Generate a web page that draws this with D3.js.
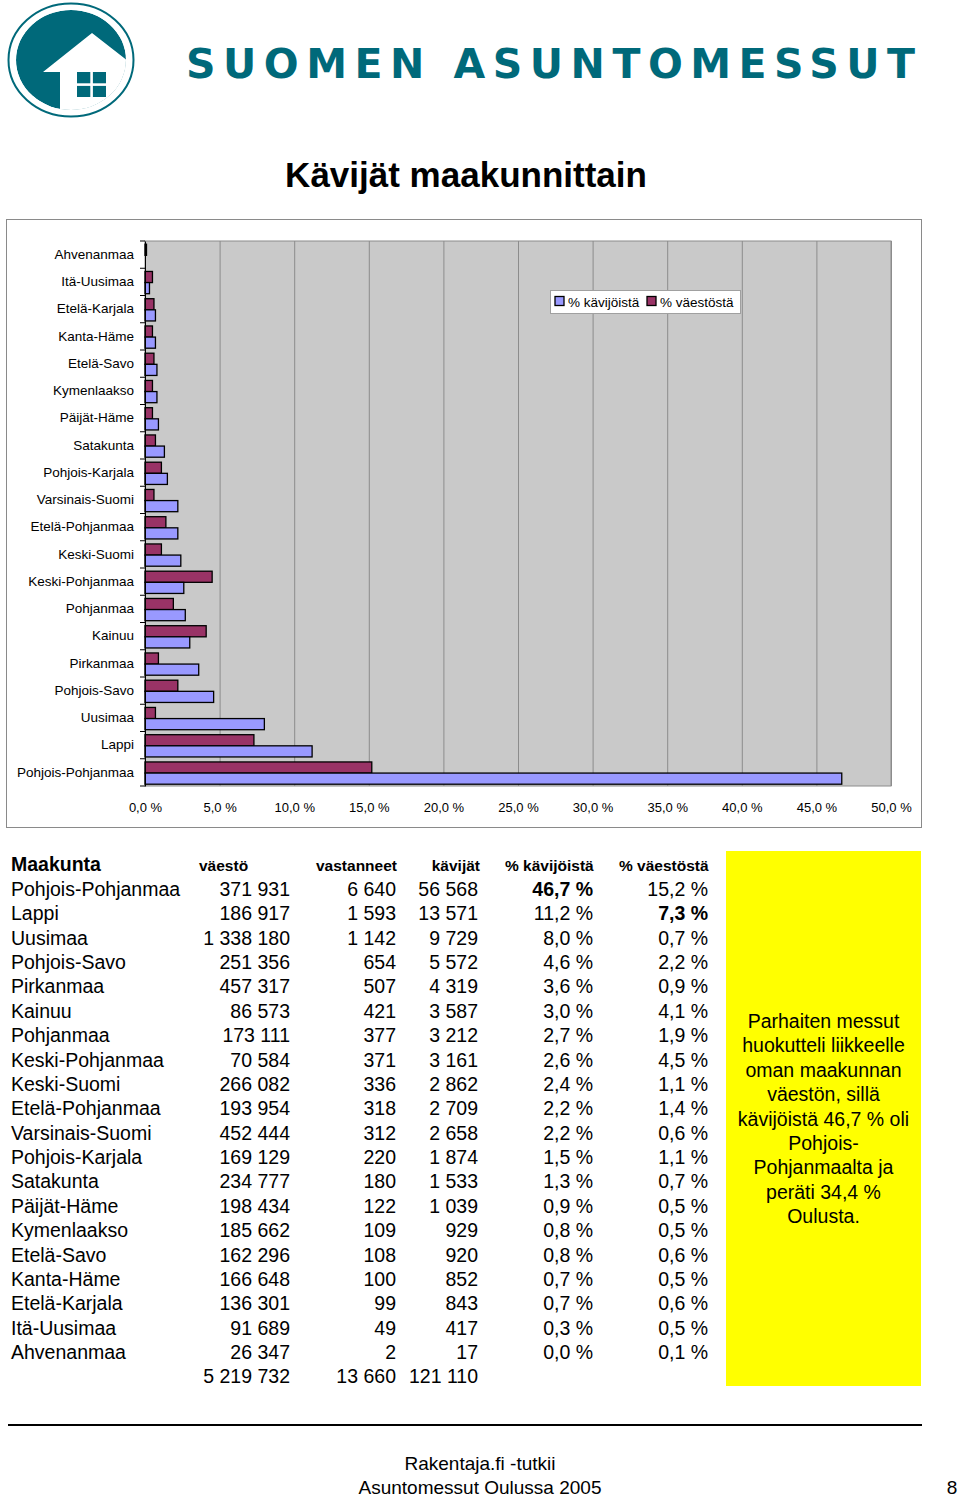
<!DOCTYPE html>
<html><head><meta charset="utf-8">
<script src="https://cdn.jsdelivr.net/npm/d3@7"></script>
<style>
html,body{margin:0;padding:0;background:#fff;}
svg{display:block;font-family:"Liberation Sans",Arial,Helvetica,sans-serif;}
</style></head>
<body>
<svg id="c" width="960" height="1496"></svg>
<script>
// ---- data ----
const regions = ["Pohjois-Pohjanmaa","Lappi","Uusimaa","Pohjois-Savo","Pirkanmaa","Kainuu","Pohjanmaa","Keski-Pohjanmaa","Keski-Suomi","Etelä-Pohjanmaa","Varsinais-Suomi","Pohjois-Karjala","Satakunta","Päijät-Häme","Kymenlaakso","Etelä-Savo","Kanta-Häme","Etelä-Karjala","Itä-Uusimaa","Ahvenanmaa"];
const vaesto = [371931,186917,1338180,251356,457317,86573,173111,70584,266082,193954,452444,169129,234777,198434,185662,162296,166648,136301,91689,26347];
const vastanneet = [6640,1593,1142,654,507,421,377,371,336,318,312,220,180,122,109,108,100,99,49,2];
const kavijat = [56568,13571,9729,5572,4319,3587,3212,3161,2862,2709,2658,1874,1533,1039,929,920,852,843,417,17];
const pctKavijoista = [46.7,11.2,8.0,4.6,3.6,3.0,2.7,2.6,2.4,2.2,2.2,1.5,1.3,0.9,0.8,0.8,0.7,0.7,0.3,0.0];
const pctVaestosta = [15.2,7.3,0.7,2.2,0.9,4.1,1.9,4.5,1.1,1.4,0.6,1.1,0.7,0.5,0.5,0.6,0.5,0.6,0.5,0.1];
const totals = [5219732,13660,121110];
const xTicks = [0,5,10,15,20,25,30,35,40,45,50];
const seriesNames = ["% kävijöistä","% väestöstä"];
const seriesColors = ["#9999FF","#993366"];
const headers = ["Maakunta","väestö","vastanneet","kävijät","% kävijöistä","% väestöstä"];
const boldCells = [[0,"kav"],[1,"vae"]];
const noteLines = ["Parhaiten messut","huokutteli liikkeelle","oman maakunnan","väestön, sillä","kävijöistä 46,7 % oli","Pohjois-","Pohjanmaalta ja","peräti 34,4 %","Oulusta."];
const footerLines = ["Rakentaja.fi -tutkii","Asuntomessut Oulussa 2005"];
const pageNumber = "8";

const fi = d3.formatLocale({decimal:",",thousands:"\u00a0",grouping:[3],currency:["","€"]});
const fmtInt = v => fi.format(",d")(v).replace(/\u00a0/g," ");
const fmtPct = v => fi.format(".1f")(v) + " %";

const svg = d3.select("#c");
const TEAL = "#00697A";

// ---- logo ----
const logo = svg.append("g");
const defs = svg.append("defs");
defs.append("clipPath").attr("id","disc").append("ellipse").attr("cx",71).attr("cy",60).attr("rx",55).attr("ry",50);
logo.append("ellipse").attr("cx",71).attr("cy",60).attr("rx",62.5).attr("ry",56.5).attr("fill","none").attr("stroke",TEAL).attr("stroke-width",2);
const disc = logo.append("g").attr("clip-path","url(#disc)");
disc.append("ellipse").attr("cx",71).attr("cy",60).attr("rx",55).attr("ry",50).attr("fill",TEAL);
disc.append("polygon").attr("points","43,72 92,33 150,78 150,130 60,130 60,72").attr("fill","#fff");
disc.append("rect").attr("x",77).attr("y",72).attr("width",29).attr("height",25).attr("fill",TEAL);
disc.append("rect").attr("x",90.3).attr("y",72).attr("width",2.6).attr("height",25).attr("fill","#fff");
disc.append("rect").attr("x",77).attr("y",83.3).attr("width",29).attr("height",2.6).attr("fill","#fff");
svg.append("text").attr("x",186).attr("y",78).attr("textLength",729).attr("lengthAdjust","spacing")
  .attr("font-family","'DejaVu Sans',sans-serif").attr("font-weight","bold").attr("font-size",41)
  .attr("fill",TEAL).text("SUOMEN ASUNTOMESSUT");

// ---- title ----
svg.append("text").attr("x",466).attr("y",187).attr("text-anchor","middle")
  .attr("font-weight","bold").attr("font-size",35).attr("fill","#000").text("Kävijät maakunnittain");

// ---- chart ----
svg.append("rect").attr("x",6.5).attr("y",219.5).attr("width",915).attr("height",608).attr("fill","#fff").attr("stroke","#8a8a8a").attr("stroke-width",1);
const cats = regions.slice().reverse();
const x = d3.scaleLinear().domain([0,50]).range([145,891]);
const y = d3.scaleBand().domain(cats).range([241,786]);
const inner = d3.scaleBand().domain([1,0]).range([3.2, y.bandwidth()-1.8]);

svg.append("rect").attr("x",145).attr("y",241).attr("width",746).attr("height",545).attr("fill","#C9C9C9").attr("stroke","#8c8c8c");
// gridlines
svg.append("g").selectAll("line").data(xTicks.slice(1)).join("line")
  .attr("x1",d=>x(d)+0.5).attr("x2",d=>x(d)+0.5).attr("y1",241).attr("y2",786)
  .attr("stroke","#8c8c8c").attr("stroke-width",1);

const rowsData = cats.map(c => {const i = regions.indexOf(c); return {c, v:[pctKavijoista[i], pctVaestosta[i]]};});
const barG = svg.append("g");
rowsData.forEach(r => {
  [1,0].forEach(s => {
    barG.append("rect").attr("x",x(0)).attr("y",y(r.c)+inner(s)).attr("width",Math.max(0,x(r.v[s])-x(0))).attr("height",inner.bandwidth())
      .attr("fill",seriesColors[s]).attr("stroke","#000").attr("stroke-width",1.3);
  });
});

// category axis
const yAx = svg.append("g").attr("transform","translate(145,0)").call(d3.axisLeft(y).tickSize(0).tickPadding(11));
yAx.select(".domain").attr("stroke","#000");
yAx.selectAll("text").attr("font-size",13.5).attr("font-family","'Liberation Sans',Arial,sans-serif").attr("fill","#000");
svg.append("g").selectAll("line").data(d3.range(cats.length+1)).join("line")
  .attr("x1",140).attr("x2",145).attr("y1",i=>241+i*y.step()).attr("y2",i=>241+i*y.step()).attr("stroke","#000");

// value axis labels
const xAx = svg.append("g").attr("transform","translate(0,786)").call(d3.axisBottom(x).tickValues(xTicks).tickFormat(fmtPct).tickSize(0).tickPadding(17));
xAx.select(".domain").remove();
xAx.selectAll("text").attr("font-size",13).attr("font-family","'Liberation Sans',Arial,sans-serif").attr("fill","#000");

// legend
const lg = svg.append("g");
lg.append("rect").attr("x",550.5).attr("y",290.5).attr("width",190).attr("height",23).attr("fill","#fff").attr("stroke","#a0a0a0");
const lgX = [555,647];
seriesNames.forEach((n,i)=>{
  lg.append("rect").attr("x",lgX[i]).attr("y",296.5).attr("width",9).attr("height",9).attr("fill",seriesColors[i]).attr("stroke","#000").attr("stroke-width",1.3);
  lg.append("text").attr("x",lgX[i]+13).attr("y",306.5).attr("font-size",13.5).text(n);
});

// ---- table ----
const tb = svg.append("g").attr("fill","#000");
tb.append("text").attr("x",11).attr("y",871).attr("font-weight","bold").attr("font-size",19.5).text(headers[0]);
const hdrPos = [[199,"start"],[316,"start"],[480,"end"],[505,"start"],[619,"start"]];
headers.slice(1).forEach((h,i)=>{
  tb.append("text").attr("x",hdrPos[i][0]).attr("y",871).attr("text-anchor",hdrPos[i][1]).attr("font-weight","bold").attr("font-size",15.5).text(h);
});
const rowY = d3.scaleLinear().domain([0,1]).range([896,896+24.37]);
const colRight = [290,396,478,593,708];
regions.forEach((r,i)=>{
  const yy = rowY(i);
  tb.append("text").attr("x",11).attr("y",yy).attr("font-size",19.5).text(r);
  const vals = [fmtInt(vaesto[i]),fmtInt(vastanneet[i]),fmtInt(kavijat[i]),fmtPct(pctKavijoista[i]),fmtPct(pctVaestosta[i])];
  const keys = ["vae_n","vas","kav_n","kav","vae"];
  vals.forEach((v,j)=>{
    const bold = boldCells.some(b=>b[0]===i && b[1]===keys[j]);
    tb.append("text").attr("x",colRight[j]).attr("y",yy).attr("text-anchor","end").attr("font-size",19.5)
      .attr("font-weight",bold?"bold":"normal").text(v);
  });
});
totals.forEach((t,j)=>{
  tb.append("text").attr("x",colRight[j]).attr("y",rowY(regions.length)).attr("text-anchor","end").attr("font-size",19.5).text(fmtInt(t));
});

// yellow note
svg.append("rect").attr("x",726).attr("y",851).attr("width",195).attr("height",535).attr("fill","#FFFF00");
noteLines.forEach((l,i)=>{
  svg.append("text").attr("x",823.5).attr("y",1028+i*24.4).attr("text-anchor","middle").attr("font-size",19.5).text(l);
});

// footer
svg.append("line").attr("x1",8).attr("x2",922).attr("y1",1425).attr("y2",1425).attr("stroke","#000").attr("stroke-width",2);
footerLines.forEach((l,i)=>{
  svg.append("text").attr("x",480).attr("y",1470+i*23.5).attr("text-anchor","middle").attr("font-size",19).text(l);
});
svg.append("text").attr("x",952).attr("y",1493.5).attr("text-anchor","middle").attr("font-size",19).text(pageNumber);
</script>
</body></html>
